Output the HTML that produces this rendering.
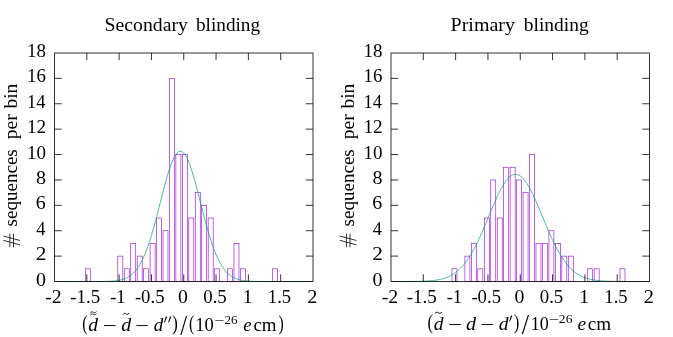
<!DOCTYPE html>
<html><head><meta charset="utf-8"><style>
html,body{margin:0;padding:0;background:#fff;}
svg{display:block;will-change:transform;}
text{font-family:"Liberation Serif",serif;fill:#000;}
</style></head><body>
<svg width="673" height="337" viewBox="0 0 673 337">
<rect width="673" height="337" fill="#fff"/>
<g transform="translate(0,0)">
<rect x="85.57" y="268.81" width="5.00" height="12.69" fill="none" stroke="#9400d3" stroke-width="0.6"/>
<rect x="117.83" y="256.11" width="5.00" height="25.39" fill="none" stroke="#9400d3" stroke-width="0.6"/>
<rect x="124.28" y="268.81" width="5.00" height="12.69" fill="none" stroke="#9400d3" stroke-width="0.6"/>
<rect x="130.73" y="243.42" width="5.00" height="38.08" fill="none" stroke="#9400d3" stroke-width="0.6"/>
<rect x="137.19" y="256.11" width="5.00" height="25.39" fill="none" stroke="#9400d3" stroke-width="0.6"/>
<rect x="143.64" y="268.81" width="5.00" height="12.69" fill="none" stroke="#9400d3" stroke-width="0.6"/>
<rect x="150.09" y="243.42" width="5.00" height="38.08" fill="none" stroke="#9400d3" stroke-width="0.6"/>
<rect x="156.54" y="218.03" width="5.00" height="63.47" fill="none" stroke="#9400d3" stroke-width="0.6"/>
<rect x="162.99" y="230.72" width="5.00" height="50.78" fill="none" stroke="#9400d3" stroke-width="0.6"/>
<rect x="169.45" y="78.39" width="5.00" height="203.11" fill="none" stroke="#9400d3" stroke-width="0.6"/>
<rect x="175.90" y="154.56" width="5.00" height="126.94" fill="none" stroke="#9400d3" stroke-width="0.6"/>
<rect x="182.35" y="154.56" width="5.00" height="126.94" fill="none" stroke="#9400d3" stroke-width="0.6"/>
<rect x="188.80" y="218.03" width="5.00" height="63.47" fill="none" stroke="#9400d3" stroke-width="0.6"/>
<rect x="195.25" y="192.64" width="5.00" height="88.86" fill="none" stroke="#9400d3" stroke-width="0.6"/>
<rect x="201.71" y="205.33" width="5.00" height="76.17" fill="none" stroke="#9400d3" stroke-width="0.6"/>
<rect x="208.16" y="218.03" width="5.00" height="63.47" fill="none" stroke="#9400d3" stroke-width="0.6"/>
<rect x="214.61" y="268.81" width="5.00" height="12.69" fill="none" stroke="#9400d3" stroke-width="0.6"/>
<rect x="227.51" y="268.81" width="5.00" height="12.69" fill="none" stroke="#9400d3" stroke-width="0.6"/>
<rect x="233.97" y="243.42" width="5.00" height="38.08" fill="none" stroke="#9400d3" stroke-width="0.6"/>
<rect x="240.42" y="268.81" width="5.00" height="12.69" fill="none" stroke="#9400d3" stroke-width="0.6"/>
<rect x="272.68" y="268.81" width="5.00" height="12.69" fill="none" stroke="#9400d3" stroke-width="0.6"/>
<polyline points="54.50,281.50 55.79,281.50 57.09,281.50 58.38,281.50 59.67,281.50 60.96,281.50 62.26,281.50 63.55,281.50 64.84,281.50 66.13,281.50 67.42,281.50 68.72,281.50 70.01,281.50 71.30,281.50 72.59,281.50 73.89,281.50 75.18,281.50 76.47,281.50 77.76,281.50 79.06,281.50 80.35,281.50 81.64,281.50 82.94,281.50 84.23,281.50 85.52,281.50 86.81,281.50 88.11,281.50 89.40,281.50 90.69,281.49 91.98,281.49 93.28,281.49 94.57,281.49 95.86,281.48 97.15,281.48 98.45,281.47 99.74,281.46 101.03,281.45 102.32,281.43 103.62,281.41 104.91,281.39 106.20,281.36 107.49,281.32 108.78,281.27 110.08,281.21 111.37,281.14 112.66,281.05 113.95,280.95 115.25,280.82 116.54,280.66 117.83,280.47 119.12,280.25 120.42,279.98 121.71,279.66 123.00,279.29 124.30,278.85 125.59,278.34 126.88,277.74 128.17,277.04 129.46,276.24 130.76,275.33 132.05,274.28 133.34,273.09 134.63,271.74 135.93,270.23 137.22,268.53 138.51,266.64 139.81,264.54 141.10,262.23 142.39,259.70 143.68,256.93 144.97,253.92 146.27,250.68 147.56,247.19 148.85,243.47 150.14,239.52 151.44,235.35 152.73,230.98 154.02,226.41 155.31,221.69 156.61,216.83 157.90,211.86 159.19,206.82 160.49,201.74 161.78,196.67 163.07,191.65 164.36,186.73 165.66,181.95 166.95,177.36 168.24,173.00 169.53,168.94 170.82,165.20 172.12,161.83 173.41,158.88 174.70,156.37 176.00,154.33 177.29,152.80 178.58,151.78 179.87,151.30 181.16,151.35 182.46,151.94 183.75,153.06 185.04,154.70 186.34,156.83 187.63,159.43 188.92,162.47 190.21,165.92 191.50,169.73 192.80,173.85 194.09,178.26 195.38,182.89 196.68,187.70 197.97,192.65 199.26,197.68 200.55,202.76 201.84,207.83 203.14,212.86 204.43,217.81 205.72,222.65 207.01,227.34 208.31,231.87 209.60,236.20 210.89,240.33 212.19,244.23 213.48,247.91 214.77,251.35 216.06,254.54 217.35,257.50 218.65,260.22 219.94,262.71 221.23,264.98 222.53,267.03 223.82,268.88 225.11,270.54 226.40,272.02 227.70,273.34 228.99,274.50 230.28,275.52 231.57,276.41 232.86,277.19 234.16,277.86 235.45,278.44 236.74,278.94 238.03,279.37 239.33,279.73 240.62,280.04 241.91,280.30 243.20,280.51 244.50,280.70 245.79,280.85 247.08,280.97 248.38,281.07 249.67,281.16 250.96,281.23 252.25,281.28 253.55,281.33 254.84,281.36 256.13,281.39 257.42,281.42 258.72,281.43 260.01,281.45 261.30,281.46 262.59,281.47 263.88,281.48 265.18,281.48 266.47,281.49 267.76,281.49 269.05,281.49 270.35,281.49 271.64,281.50 272.93,281.50 274.23,281.50 275.52,281.50 276.81,281.50 278.10,281.50 279.39,281.50 280.69,281.50 281.98,281.50 283.27,281.50 284.56,281.50 285.86,281.50 287.15,281.50 288.44,281.50 289.74,281.50 291.03,281.50 292.32,281.50 293.61,281.50 294.90,281.50 296.20,281.50 297.49,281.50 298.78,281.50 300.07,281.50 301.37,281.50 302.66,281.50 303.95,281.50 305.25,281.50 306.54,281.50 307.83,281.50 309.12,281.50 310.41,281.50 311.71,281.50 313.00,281.50" fill="none" stroke="#009e73" stroke-width="0.7"/>
<path d="M86.81,281.5v-7.2M86.81,53.0v7.2M119.12,281.5v-7.2M119.12,53.0v7.2M151.44,281.5v-7.2M151.44,53.0v7.2M183.75,281.5v-7.2M183.75,53.0v7.2M216.06,281.5v-7.2M216.06,53.0v7.2M248.38,281.5v-7.2M248.38,53.0v7.2M280.69,281.5v-7.2M280.69,53.0v7.2M54.5,256.11h7.2M313.0,256.11h-7.2M54.5,230.72h7.2M313.0,230.72h-7.2M54.5,205.33h7.2M313.0,205.33h-7.2M54.5,179.94h7.2M313.0,179.94h-7.2M54.5,154.56h7.2M313.0,154.56h-7.2M54.5,129.17h7.2M313.0,129.17h-7.2M54.5,103.78h7.2M313.0,103.78h-7.2M54.5,78.39h7.2M313.0,78.39h-7.2" stroke="#000" stroke-width="0.8" fill="none"/>
<rect x="54.5" y="53.0" width="258.50" height="228.50" fill="none" stroke="#000" stroke-width="0.8"/>
</g>
<g transform="translate(336.5,0)">
<rect x="115.49" y="268.81" width="5.00" height="12.69" fill="none" stroke="#9400d3" stroke-width="0.6"/>
<rect x="128.41" y="256.11" width="5.00" height="25.39" fill="none" stroke="#9400d3" stroke-width="0.6"/>
<rect x="134.87" y="243.42" width="5.00" height="38.08" fill="none" stroke="#9400d3" stroke-width="0.6"/>
<rect x="141.33" y="268.81" width="5.00" height="12.69" fill="none" stroke="#9400d3" stroke-width="0.6"/>
<rect x="147.79" y="218.03" width="5.00" height="63.47" fill="none" stroke="#9400d3" stroke-width="0.6"/>
<rect x="154.25" y="179.94" width="5.00" height="101.56" fill="none" stroke="#9400d3" stroke-width="0.6"/>
<rect x="160.72" y="218.03" width="5.00" height="63.47" fill="none" stroke="#9400d3" stroke-width="0.6"/>
<rect x="167.18" y="167.25" width="5.00" height="114.25" fill="none" stroke="#9400d3" stroke-width="0.6"/>
<rect x="173.64" y="167.25" width="5.00" height="114.25" fill="none" stroke="#9400d3" stroke-width="0.6"/>
<rect x="180.10" y="179.94" width="5.00" height="101.56" fill="none" stroke="#9400d3" stroke-width="0.6"/>
<rect x="186.56" y="192.64" width="5.00" height="88.86" fill="none" stroke="#9400d3" stroke-width="0.6"/>
<rect x="193.02" y="154.56" width="5.00" height="126.94" fill="none" stroke="#9400d3" stroke-width="0.6"/>
<rect x="199.48" y="243.42" width="5.00" height="38.08" fill="none" stroke="#9400d3" stroke-width="0.6"/>
<rect x="205.95" y="243.42" width="5.00" height="38.08" fill="none" stroke="#9400d3" stroke-width="0.6"/>
<rect x="212.41" y="230.72" width="5.00" height="50.78" fill="none" stroke="#9400d3" stroke-width="0.6"/>
<rect x="218.87" y="243.42" width="5.00" height="38.08" fill="none" stroke="#9400d3" stroke-width="0.6"/>
<rect x="225.33" y="256.11" width="5.00" height="25.39" fill="none" stroke="#9400d3" stroke-width="0.6"/>
<rect x="231.79" y="256.11" width="5.00" height="25.39" fill="none" stroke="#9400d3" stroke-width="0.6"/>
<rect x="251.18" y="268.81" width="5.00" height="12.69" fill="none" stroke="#9400d3" stroke-width="0.6"/>
<rect x="257.64" y="268.81" width="5.00" height="12.69" fill="none" stroke="#9400d3" stroke-width="0.6"/>
<rect x="283.48" y="268.81" width="5.00" height="12.69" fill="none" stroke="#9400d3" stroke-width="0.6"/>
<polyline points="54.50,281.50 55.79,281.50 57.09,281.50 58.38,281.50 59.67,281.49 60.96,281.49 62.26,281.49 63.55,281.49 64.84,281.49 66.13,281.48 67.42,281.48 68.72,281.48 70.01,281.47 71.30,281.47 72.59,281.46 73.89,281.45 75.18,281.44 76.47,281.43 77.76,281.41 79.06,281.39 80.35,281.37 81.64,281.35 82.94,281.32 84.23,281.29 85.52,281.25 86.81,281.20 88.11,281.15 89.40,281.09 90.69,281.02 91.98,280.93 93.28,280.84 94.57,280.73 95.86,280.61 97.15,280.46 98.45,280.30 99.74,280.12 101.03,279.91 102.32,279.67 103.62,279.41 104.91,279.11 106.20,278.77 107.49,278.39 108.78,277.97 110.08,277.51 111.37,276.99 112.66,276.41 113.95,275.78 115.25,275.08 116.54,274.31 117.83,273.47 119.12,272.55 120.42,271.55 121.71,270.47 123.00,269.29 124.30,268.02 125.59,266.65 126.88,265.18 128.17,263.60 129.46,261.92 130.76,260.13 132.05,258.23 133.34,256.22 134.63,254.10 135.93,251.87 137.22,249.53 138.51,247.09 139.81,244.55 141.10,241.91 142.39,239.18 143.68,236.36 144.97,233.48 146.27,230.52 147.56,227.50 148.85,224.44 150.14,221.35 151.44,218.23 152.73,215.11 154.02,211.99 155.31,208.90 156.61,205.84 157.90,202.83 159.19,199.90 160.49,197.05 161.78,194.30 163.07,191.67 164.36,189.18 165.66,186.83 166.95,184.65 168.24,182.65 169.53,180.84 170.82,179.24 172.12,177.85 173.41,176.68 174.70,175.74 176.00,175.04 177.29,174.58 178.58,174.37 179.87,174.41 181.16,174.70 182.46,175.22 183.75,176.00 185.04,177.00 186.34,178.24 187.63,179.70 188.92,181.37 190.21,183.23 191.50,185.29 192.80,187.52 194.09,189.91 195.38,192.45 196.68,195.11 197.97,197.89 199.26,200.77 200.55,203.73 201.84,206.75 203.14,209.82 204.43,212.93 205.72,216.05 207.01,219.17 208.31,222.28 209.60,225.37 210.89,228.41 212.19,231.41 213.48,234.35 214.77,237.22 216.06,240.01 217.35,242.71 218.65,245.32 219.94,247.83 221.23,250.25 222.53,252.55 223.82,254.75 225.11,256.84 226.40,258.81 227.70,260.68 228.99,262.44 230.28,264.09 231.57,265.63 232.86,267.07 234.16,268.41 235.45,269.65 236.74,270.80 238.03,271.86 239.33,272.84 240.62,273.73 241.91,274.55 243.20,275.30 244.50,275.97 245.79,276.59 247.08,277.15 248.38,277.65 249.67,278.10 250.96,278.51 252.25,278.87 253.55,279.20 254.84,279.49 256.13,279.75 257.42,279.97 258.72,280.17 260.01,280.35 261.30,280.51 262.59,280.64 263.88,280.76 265.18,280.87 266.47,280.96 267.76,281.04 269.05,281.11 270.35,281.17 271.64,281.22 272.93,281.26 274.23,281.30 275.52,281.33 276.81,281.36 278.10,281.38 279.39,281.40 280.69,281.42 281.98,281.43 283.27,281.44 284.56,281.45 285.86,281.46 287.15,281.47 288.44,281.47 289.74,281.48 291.03,281.48 292.32,281.49 293.61,281.49 294.90,281.49 296.20,281.49 297.49,281.49 298.78,281.49 300.07,281.50 301.37,281.50 302.66,281.50 303.95,281.50 305.25,281.50 306.54,281.50 307.83,281.50 309.12,281.50 310.41,281.50 311.71,281.50 313.00,281.50" fill="none" stroke="#009e73" stroke-width="0.7"/>
<path d="M86.81,281.5v-7.2M86.81,53.0v7.2M119.12,281.5v-7.2M119.12,53.0v7.2M151.44,281.5v-7.2M151.44,53.0v7.2M183.75,281.5v-7.2M183.75,53.0v7.2M216.06,281.5v-7.2M216.06,53.0v7.2M248.38,281.5v-7.2M248.38,53.0v7.2M280.69,281.5v-7.2M280.69,53.0v7.2M54.5,256.11h7.2M313.0,256.11h-7.2M54.5,230.72h7.2M313.0,230.72h-7.2M54.5,205.33h7.2M313.0,205.33h-7.2M54.5,179.94h7.2M313.0,179.94h-7.2M54.5,154.56h7.2M313.0,154.56h-7.2M54.5,129.17h7.2M313.0,129.17h-7.2M54.5,103.78h7.2M313.0,103.78h-7.2M54.5,78.39h7.2M313.0,78.39h-7.2" stroke="#000" stroke-width="0.8" fill="none"/>
<rect x="54.5" y="53.0" width="258.50" height="228.50" fill="none" stroke="#000" stroke-width="0.8"/>
</g>
<g>
<text transform="translate(35.93,285.58) scale(1.0303,0.9615)" font-size="19.4">0</text>
<text transform="translate(35.74,260.31) scale(1.0968,0.9709)" font-size="19.4">2</text>
<text transform="translate(36.35,234.92) scale(0.9444,0.9804)" font-size="19.4">4</text>
<text transform="translate(35.80,209.41) scale(1.0303,0.9615)" font-size="19.4">6</text>
<text transform="translate(35.93,184.02) scale(1.0303,0.9615)" font-size="19.4">8</text>
<text transform="translate(26.99,158.64) scale(0.9778,0.9615)" font-size="19.4">10</text>
<text transform="translate(26.96,133.37) scale(0.9925,0.9709)" font-size="19.4">12</text>
<text transform="translate(27.04,107.98) scale(0.9496,0.9804)" font-size="19.4">14</text>
<text transform="translate(27.00,82.47) scale(0.9706,0.9615)" font-size="19.4">16</text>
<text transform="translate(26.99,57.08) scale(0.9778,0.9615)" font-size="19.4">18</text>
<text transform="translate(45.23,302.80) scale(1.0226,0.9709)" font-size="19.4">-2</text>
<text transform="translate(70.27,302.56) scale(0.9785,0.9615)" font-size="19.4">-1.5</text>
<text transform="translate(110.18,302.80) scale(0.9544,0.9804)" font-size="19.4">-1</text>
<text transform="translate(134.88,302.56) scale(0.9648,0.9524)" font-size="19.4">-0.5</text>
<text transform="translate(178.04,302.68) scale(1.0182,0.9615)" font-size="19.4">0</text>
<text transform="translate(203.17,302.56) scale(0.9758,0.9524)" font-size="19.4">0.5</text>
<text transform="translate(242.64,302.80) scale(1.0074,0.9804)" font-size="19.4">1</text>
<text transform="translate(267.82,302.56) scale(0.9609,0.9615)" font-size="19.4">1.5</text>
<text transform="translate(307.29,302.80) scale(1.0452,0.9709)" font-size="19.4">2</text>
<text transform="translate(17.20,225.70) rotate(-90) scale(0.9815,1)" x="-0.750" y="0" font-size="19.4">sequences</text>
<text transform="translate(17.20,138.90) rotate(-90) scale(1.0144,1)" x="-0.375" y="0" font-size="19.4">per</text>
<text transform="translate(17.20,108.60) rotate(-90) scale(1.0082,1)" x="-0.000" y="0" font-size="19.4">bin</text>
<text transform="translate(372.43,285.58) scale(1.0303,0.9615)" font-size="19.4">0</text>
<text transform="translate(372.24,260.31) scale(1.0968,0.9709)" font-size="19.4">2</text>
<text transform="translate(372.85,234.92) scale(0.9444,0.9804)" font-size="19.4">4</text>
<text transform="translate(372.30,209.41) scale(1.0303,0.9615)" font-size="19.4">6</text>
<text transform="translate(372.43,184.02) scale(1.0303,0.9615)" font-size="19.4">8</text>
<text transform="translate(363.49,158.64) scale(0.9778,0.9615)" font-size="19.4">10</text>
<text transform="translate(363.46,133.37) scale(0.9925,0.9709)" font-size="19.4">12</text>
<text transform="translate(363.54,107.98) scale(0.9496,0.9804)" font-size="19.4">14</text>
<text transform="translate(363.50,82.47) scale(0.9706,0.9615)" font-size="19.4">16</text>
<text transform="translate(363.49,57.08) scale(0.9778,0.9615)" font-size="19.4">18</text>
<text transform="translate(381.73,302.80) scale(1.0226,0.9709)" font-size="19.4">-2</text>
<text transform="translate(406.77,302.56) scale(0.9785,0.9615)" font-size="19.4">-1.5</text>
<text transform="translate(446.68,302.80) scale(0.9544,0.9804)" font-size="19.4">-1</text>
<text transform="translate(471.38,302.56) scale(0.9648,0.9524)" font-size="19.4">-0.5</text>
<text transform="translate(514.54,302.68) scale(1.0182,0.9615)" font-size="19.4">0</text>
<text transform="translate(539.67,302.56) scale(0.9758,0.9524)" font-size="19.4">0.5</text>
<text transform="translate(579.14,302.80) scale(1.0074,0.9804)" font-size="19.4">1</text>
<text transform="translate(604.32,302.56) scale(0.9609,0.9615)" font-size="19.4">1.5</text>
<text transform="translate(643.79,302.80) scale(1.0452,0.9709)" font-size="19.4">2</text>
<text transform="translate(353.70,225.70) rotate(-90) scale(0.9815,1)" x="-0.750" y="0" font-size="19.4">sequences</text>
<text transform="translate(353.70,138.90) rotate(-90) scale(1.0144,1)" x="-0.375" y="0" font-size="19.4">per</text>
<text transform="translate(353.70,108.60) rotate(-90) scale(1.0082,1)" x="-0.000" y="0" font-size="19.4">bin</text>
<text transform="translate(104.53,30.80) scale(1.0186,1.0000)" font-size="19.4">Secondary</text>
<text transform="translate(196.00,30.80) scale(0.9914,1.0000)" font-size="19.4">blinding</text>
<text transform="translate(450.53,30.80) scale(1.0319,1.0000)" font-size="19.4">Primary</text>
<text transform="translate(523.80,30.80) scale(1.0039,1.0000)" font-size="19.4">blinding</text>
<text transform="translate(82.18,330.47) scale(0.8200,1.0971)" font-size="19.4">(</text>
<text transform="translate(88.17,330.87) scale(1.0082,1.0128)" font-size="19.4" font-style="italic">d</text>
<text transform="translate(102.72,331.64) scale(1.2778,1.0000)" font-size="19.4">−</text>
<text transform="translate(121.16,330.87) scale(1.0301,1.0128)" font-size="19.4" font-style="italic">d</text>
<text transform="translate(135.24,331.64) scale(1.2556,1.0000)" font-size="19.4">−</text>
<text transform="translate(153.79,330.87) scale(0.9753,1.0128)" font-size="19.4" font-style="italic">d</text>
<text transform="translate(172.16,330.47) scale(0.8600,1.0971)" font-size="19.4">)</text>
<text transform="translate(180.20,334.81) scale(1.2837,1.4913)" font-size="19.4">/</text>
<text transform="translate(189.08,330.47) scale(0.8200,1.0971)" font-size="19.4">(</text>
<text transform="translate(195.23,330.97) scale(0.9541,1.0154)" font-size="19.4">10</text>
<text transform="translate(214.17,324.94) scale(1.3224,1.0000)" font-size="13.2">−</text>
<text transform="translate(224.48,323.78) scale(0.9979,0.9577)" font-size="13.2">26</text>
<text transform="translate(243.30,330.88) scale(0.9600,0.9514)" font-size="19.4" font-style="italic">e</text>
<text transform="translate(253.47,330.90) scale(0.9768,1.0000)" font-size="19.4">cm</text>
<text transform="translate(278.49,330.47) scale(0.8200,1.0971)" font-size="19.4">)</text>
<text transform="translate(427.45,329.47) scale(0.8600,1.0971)" font-size="19.4">(</text>
<text transform="translate(433.67,329.87) scale(1.0082,1.0128)" font-size="19.4" font-style="italic">d</text>
<text transform="translate(448.11,330.64) scale(1.2889,1.0000)" font-size="19.4">−</text>
<text transform="translate(466.05,329.87) scale(1.0411,1.0128)" font-size="19.4" font-style="italic">d</text>
<text transform="translate(480.21,330.64) scale(1.2889,1.0000)" font-size="19.4">−</text>
<text transform="translate(498.77,329.87) scale(1.0082,1.0128)" font-size="19.4" font-style="italic">d</text>
<text transform="translate(513.99,329.47) scale(0.8200,1.0971)" font-size="19.4">)</text>
<text transform="translate(521.70,333.81) scale(1.3581,1.4913)" font-size="19.4">/</text>
<text transform="translate(530.67,329.97) scale(0.9304,1.0154)" font-size="19.4">10</text>
<text transform="translate(548.75,323.94) scale(1.3551,1.0000)" font-size="13.2">−</text>
<text transform="translate(558.86,322.78) scale(1.0309,0.9577)" font-size="13.2">26</text>
<text transform="translate(577.58,329.88) scale(1.0000,0.9514)" font-size="19.4" font-style="italic">e</text>
<text transform="translate(587.86,329.90) scale(0.9856,1.0000)" font-size="19.4">cm</text>
<path d="M90.60,312.65 C91.72,311.40 92.73,311.80 93.40,312.30 S95.08,313.20 96.20,311.90" fill="none" stroke="#000" stroke-width="0.85" stroke-linecap="round"/>
<path d="M90.60,314.75 C91.72,313.50 92.73,313.90 93.40,314.40 S95.08,315.30 96.20,314.00" fill="none" stroke="#000" stroke-width="0.85" stroke-linecap="round"/>
<path d="M123.20,314.35 C124.34,312.73 125.37,313.25 126.05,313.90 S127.76,315.07 128.90,313.38" fill="none" stroke="#000" stroke-width="0.95" stroke-linecap="round"/>
<path d="M435.20,313.25 C436.50,311.63 437.67,312.15 438.45,312.80 S440.40,313.97 441.70,312.28" fill="none" stroke="#000" stroke-width="0.95" stroke-linecap="round"/>
<path d="M165.85,316.40 L167.35,316.70 L164.75,322.40 L164.05,322.20 Z" fill="#000"/>
<path d="M169.95,316.40 L171.45,316.70 L168.85,322.40 L168.15,322.20 Z" fill="#000"/>
<path d="M510.95,315.40 L512.45,315.70 L509.85,321.40 L509.15,321.20 Z" fill="#000"/>
<path d="M9.9,233.7V247.2M13.5,233.7V247.2M3.3,236.0L20.0,240.5M3.3,240.3L20.0,244.9" stroke="#000" stroke-width="0.8" fill="none"/>
<path d="M346.4,233.7V247.2M350.0,233.7V247.2M339.8,236.0L356.5,240.5M339.8,240.3L356.5,244.9" stroke="#000" stroke-width="0.8" fill="none"/>
</g>
</svg>
</body></html>
